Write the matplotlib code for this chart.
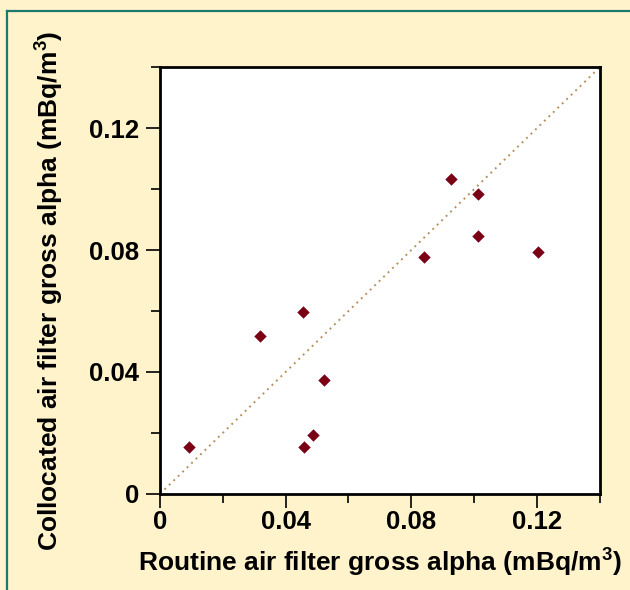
import matplotlib.pyplot as plt
from matplotlib.lines import Line2D
from matplotlib.ticker import MultipleLocator

plt.rcParams['font.family'] = ['Liberation Sans', 'DejaVu Sans']
plt.rcParams['font.weight'] = 'bold'
plt.rcParams['axes.labelweight'] = 'bold'
plt.rcParams['mathtext.fontset'] = 'custom'
plt.rcParams['mathtext.bf'] = 'Liberation Sans:bold'
plt.rcParams['mathtext.rm'] = 'Liberation Sans:bold'
plt.rcParams['mathtext.default'] = 'bf'

# routine vs collocated air filter gross alpha, mBq/m3
routine = [0.0093, 0.0319, 0.0456, 0.0459, 0.0486, 0.0522, 0.0840, 0.0925, 0.1013, 0.1011, 0.1204]
collocated = [0.0153, 0.0517, 0.0597, 0.0153, 0.0193, 0.0374, 0.0777, 0.1032, 0.0984, 0.0846, 0.0794]
ticks = [0, 0.04, 0.08, 0.12]
tick_labels = ['0', '0.04', '0.08', '0.12']
lim = 0.14

bg = '#fff3cc'
fig = plt.figure(figsize=(6.3, 5.9), dpi=100, facecolor=bg)
ax = fig.add_axes([0.254, 0.163, 0.698, 0.723])
ax.set_facecolor('white')

# 1:1 line
ax.plot([0, lim], [0, lim], linestyle=(0, (1, 2.2)), color='#b8915f', linewidth=1.4, zorder=1)
ax.scatter(routine, collocated, marker='D', s=40, color='#7a0016', zorder=3, linewidths=0)

ax.set_xlim(0, lim)
ax.set_ylim(0, lim)
ax.set_xticks(ticks)
ax.set_xticklabels(tick_labels)
ax.set_yticks(ticks)
ax.set_yticklabels(tick_labels)
ax.xaxis.set_minor_locator(MultipleLocator(0.02))
ax.yaxis.set_minor_locator(MultipleLocator(0.02))
ax.tick_params(which='major', length=10, width=1.2, labelsize=18.5, direction='out')
ax.tick_params(which='minor', length=6.5, width=1.2, direction='out')
ax.tick_params(axis='x', pad=2)
ax.tick_params(axis='y', pad=5)
for s in ax.spines.values():
    s.set_linewidth(2)

ax.set_xlabel(r'Routine air filter gross alpha (mBq/m$^{3}$)', fontsize=19, fontweight='bold', labelpad=9)
ax.set_ylabel(r'Collocated air filter gross alpha (mBq/m$^{3}$)', fontsize=19, fontweight='bold')
ax.yaxis.set_label_coords(-0.213, 0.475)

# teal frame lines (top and left)
fig.add_artist(Line2D([7 / 630, 1], [1 - 11 / 590, 1 - 11 / 590], color='#1b7a6e', linewidth=1.6))
fig.add_artist(Line2D([7 / 630, 7 / 630], [0, 1 - 11 / 590], color='#1b7a6e', linewidth=1.6))

fig.savefig('out.png', dpi=100, facecolor=bg)
